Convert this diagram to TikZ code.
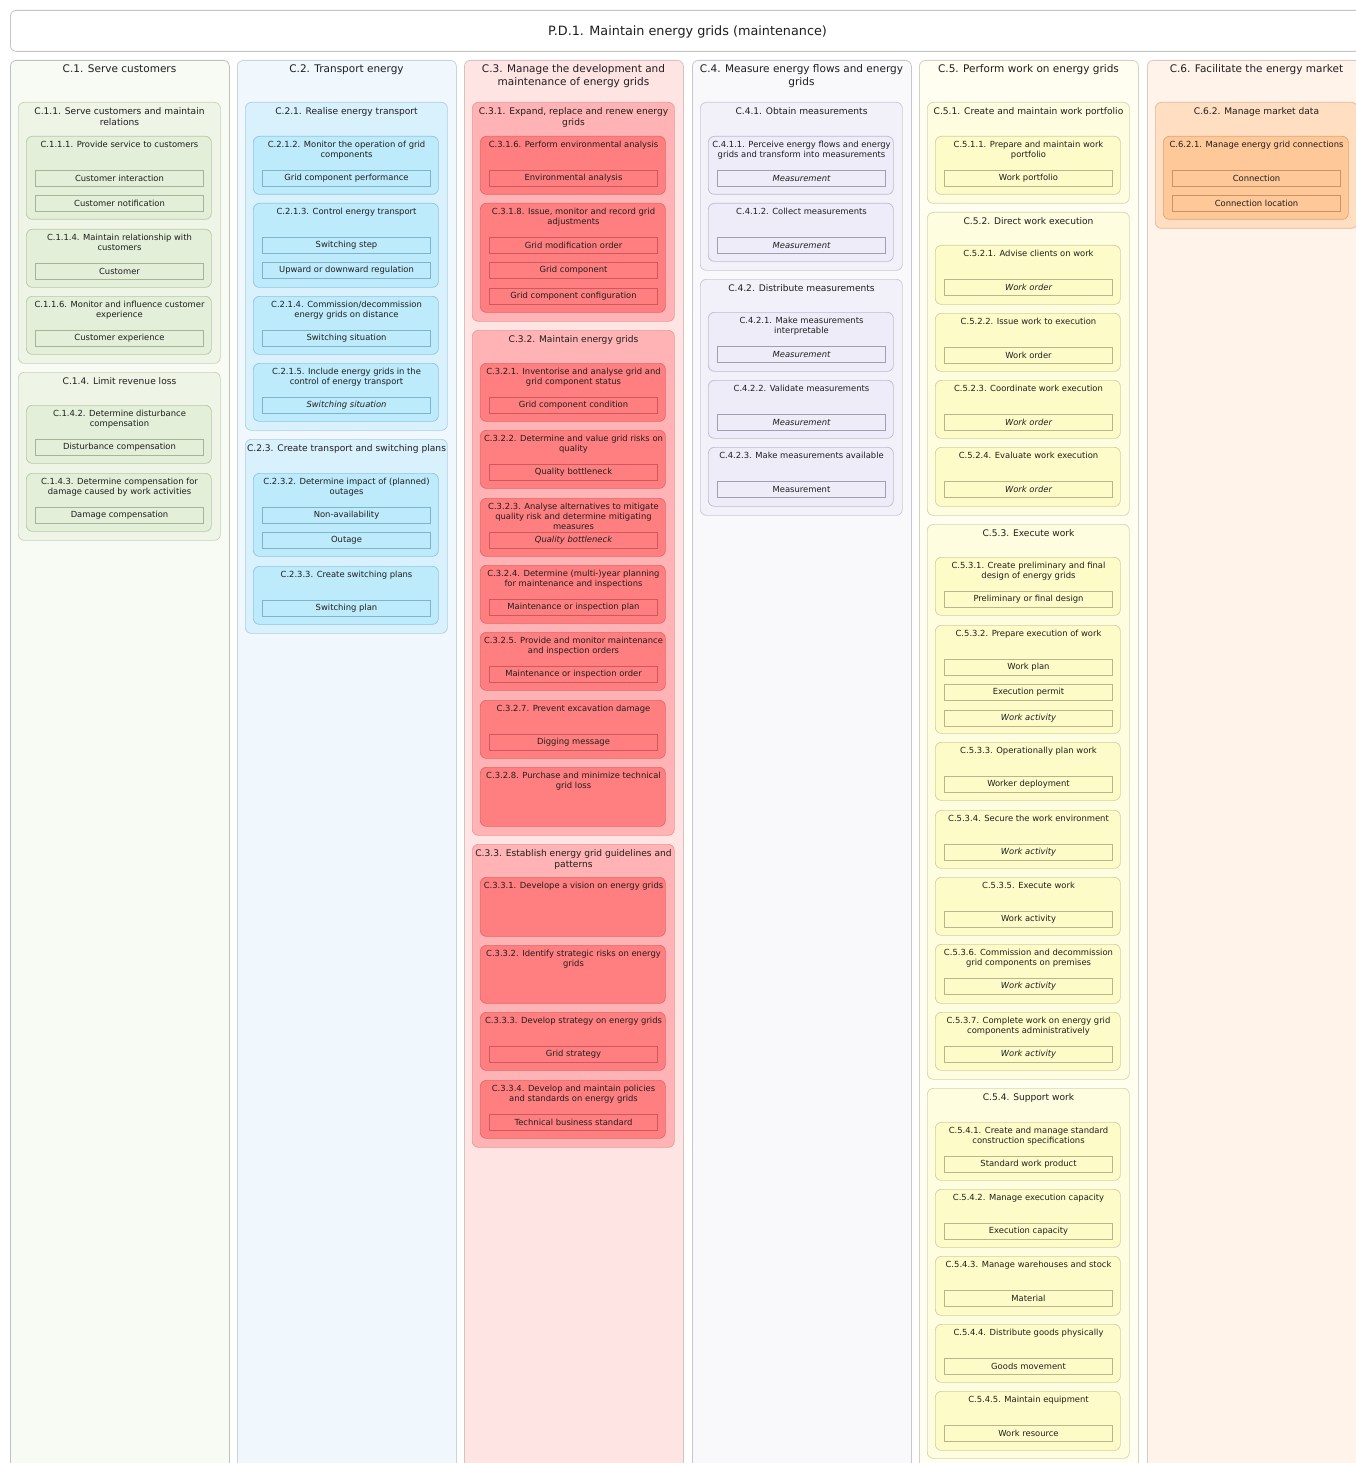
\documentclass[tikz,border=0pt]{standalone}
\usepackage{fontspec}
\setmainfont{DejaVu Sans}
\definecolor{txt}{HTML}{1E1E1E}
\definecolor{frame}{HTML}{C4C4C4}
\tikzset{
  colbox/.style={draw=cdraw, fill=cfill, rounded corners=6pt, line width=0.8pt, minimum width=219, minimum height=1440, inner sep=0pt, anchor=north west},
  grpbox/.style={draw=gdraw, fill=gfill, rounded corners=6pt, line width=0.7pt, minimum width=202, inner sep=0pt, anchor=north west},
  leafbox/.style={draw=ldraw, fill=lfill, rounded corners=6pt, line width=0.7pt, minimum width=185, inner sep=0pt, anchor=north west},
  itembox/.style={draw=idraw, fill=lfill, line width=0.6pt, minimum width=168, minimum height=16, inner sep=0pt, text=txt, font=\fontsize{8.4}{10}\selectfont},
  coltitle/.style={anchor=north, inner sep=0pt, align=center, text=txt, font=\fontsize{10.5}{13}\selectfont},
  grptitle/.style={anchor=north, inner sep=0pt, align=center, text=txt, font=\fontsize{9.1}{11}\selectfont},
  leaftitle/.style={anchor=north, inner sep=0pt, align=center, text=txt, font=\fontsize{8.4}{10.3}\selectfont},
}
\newcommand\colset[6]{\definecolor{cfill}{HTML}{#1}\definecolor{gfill}{HTML}{#2}\definecolor{gdraw}{HTML}{#3}\definecolor{lfill}{HTML}{#4}\definecolor{ldraw}{HTML}{#5}\definecolor{idraw}{HTML}{#6}}
\newcommand\column[3]{% name, x, title
  \node[colbox] (#1) at (#2,60) {};
  \node[coltitle] (#1-t) at (#2+109.5,64.6) {#3};}
\newcommand\grp[5]{% name, colx, top, height, title
  \node[grpbox, minimum height=#4] (#1) at (#2+8,#3) {};
  \node[grptitle] (#1-t) at (#2+109.5,#3+5.6) {#5};}
\newcommand\leaf[5]{% name, colx, top, height, title
  \node[leafbox, minimum height=#4] (#1) at (#2+16,#3) {};
  \node[leaftitle] (#1-t) at (#2+109.5,#3+4.8) {#5};}
\newcommand\itm[5]{% name, colx, leaftop, index, text
  \node[itembox] (#1) at (#2+109.5,#3+42+25.5*#4) {#5};}
\begin{document}
\begin{tikzpicture}[x=1pt,y=-1pt]
\useasboundingbox (0,0) rectangle (1356,1463);
\clip (0,0) rectangle (1356,1463);
\fill[white] (0,0) rectangle (1356,1463);
% title
\node[draw=frame, fill=white, rounded corners=6pt, line width=0.8pt, minimum width=1355, minimum height=41, inner sep=0pt, anchor=north west] (pd) at (10,10) {};
\node[anchor=base, inner sep=0pt, text=txt, font=\fontsize{12.8}{15}\selectfont] (pd-t) at (687.5,35.3) {P.D.1. Maintain energy grids (maintenance)};

% ---------- C.1
\definecolor{cdraw}{HTML}{C0C0BC}
\colset{F8FAF4}{EEF4E6}{C6D3B8}{E3EFD8}{B7C9A4}{A5B595}
\column{c1}{10}{C.1. Serve customers}
\grp{g11}{10}{102}{261}{C.1.1. Serve customers and maintain\\relations}
\leaf{l111}{10}{136}{83}{C.1.1.1. Provide service to customers}
\itm{i111a}{10}{136}{0}{Customer interaction}
\itm{i111b}{10}{136}{1}{Customer notification}
\leaf{l114}{10}{229}{58}{C.1.1.4. Maintain relationship with\\customers}
\itm{i114a}{10}{229}{0}{Customer}
\leaf{l116}{10}{296}{58}{C.1.1.6. Monitor and influence customer\\experience}
\itm{i116a}{10}{296}{0}{Customer experience}
\grp{g14}{10}{372}{168}{C.1.4. Limit revenue loss}
\leaf{l142}{10}{405}{58}{C.1.4.2. Determine disturbance\\compensation}
\itm{i142a}{10}{405}{0}{Disturbance compensation}
\leaf{l143}{10}{473}{58}{C.1.4.3. Determine compensation for\\damage caused by work activities}
\itm{i143a}{10}{473}{0}{Damage compensation}

% ---------- C.2
\definecolor{cdraw}{HTML}{CAD3D8}
\colset{F0F8FD}{D9F1FC}{A9D0E0}{BDEBFB}{8FC6DC}{7FB3C9}
\column{c2}{237}{C.2. Transport energy}
\grp{g21}{237}{102}{328}{C.2.1. Realise energy transport}
\leaf{l212}{237}{136}{58}{C.2.1.2. Monitor the operation of grid\\components}
\itm{i212a}{237}{136}{0}{Grid component performance}
\leaf{l213}{237}{203}{84}{C.2.1.3. Control energy transport}
\itm{i213a}{237}{203}{0}{Switching step}
\itm{i213b}{237}{203}{1}{Upward or downward regulation}
\leaf{l214}{237}{296}{58}{C.2.1.4. Commission/decommission\\energy grids on distance}
\itm{i214a}{237}{296}{0}{Switching situation}
\leaf{l215}{237}{363}{58}{C.2.1.5. Include energy grids in the\\control of energy transport}
\itm{i215a}{237}{363}{0}{\itshape Switching situation}
\grp{g23}{237}{439}{194}{C.2.3. Create transport and switching plans}
\leaf{l232}{237}{473}{83}{C.2.3.2. Determine impact of (planned)\\outages}
\itm{i232a}{237}{473}{0}{Non-availability}
\itm{i232b}{237}{473}{1}{Outage}
\leaf{l233}{237}{566}{58}{C.2.3.3. Create switching plans}
\itm{i233a}{237}{566}{0}{Switching plan}

% ---------- C.3
\definecolor{cdraw}{HTML}{D6C2C2}
\colset{FFE4E4}{FFB3B4}{E79A9B}{FF7F80}{E0696B}{CC5A5C}
\column{c3}{464}{C.3. Manage the development and\\maintenance of energy grids}
\grp{g31}{464}{102}{219}{C.3.1. Expand, replace and renew energy\\grids}
\leaf{l316}{464}{136}{58}{C.3.1.6. Perform environmental analysis}
\itm{i316a}{464}{136}{0}{Environmental analysis}
\leaf{l318}{464}{203}{109}{C.3.1.8. Issue, monitor and record grid\\adjustments}
\itm{i318a}{464}{203}{0}{Grid modification order}
\itm{i318b}{464}{203}{1}{Grid component}
\itm{i318c}{464}{203}{2}{Grid component configuration}
\grp{g32}{464}{330}{505}{C.3.2. Maintain energy grids}
\leaf{l321}{464}{363}{58}{C.3.2.1. Inventorise and analyse grid and\\grid component status}
\itm{i321a}{464}{363}{0}{Grid component condition}
\leaf{l322}{464}{430}{58}{C.3.2.2. Determine and value grid risks on\\quality}
\itm{i322a}{464}{430}{0}{Quality bottleneck}
\leaf{l323}{464}{498}{58}{C.3.2.3. Analyse alternatives to mitigate\\quality risk and determine mitigating\\measures}
\itm{i323a}{464}{498}{0}{\itshape Quality bottleneck}
\leaf{l324}{464}{565}{58}{C.3.2.4. Determine (multi-)year planning\\for maintenance and inspections}
\itm{i324a}{464}{565}{0}{Maintenance or inspection plan}
\leaf{l325}{464}{632}{58}{C.3.2.5. Provide and monitor maintenance\\and inspection orders}
\itm{i325a}{464}{632}{0}{Maintenance or inspection order}
\leaf{l327}{464}{700}{58}{C.3.2.7. Prevent excavation damage}
\itm{i327a}{464}{700}{0}{Digging message}
\leaf{l328}{464}{767}{59}{C.3.2.8. Purchase and minimize technical\\grid loss}
\grp{g33}{464}{844}{303}{C.3.3. Establish energy grid guidelines and\\patterns}
\leaf{l331}{464}{877}{59}{C.3.3.1. Develope a vision on energy grids}
\leaf{l332}{464}{945}{58}{C.3.3.2. Identify strategic risks on energy\\grids}
\leaf{l333}{464}{1012}{58}{C.3.3.3. Develop strategy on energy grids}
\itm{i333a}{464}{1012}{0}{Grid strategy}
\leaf{l334}{464}{1080}{58}{C.3.3.4. Develop and maintain policies\\and standards on energy grids}
\itm{i334a}{464}{1080}{0}{Technical business standard}

% ---------- C.4
\definecolor{cdraw}{HTML}{C6C6CC}
\colset{F9F9FC}{F2F1FA}{C9C7D6}{EEECF8}{BEBCCD}{A09EB0}
\column{c4}{692}{C.4. Measure energy flows and energy\\grids}
\grp{g41}{692}{102}{168}{C.4.1. Obtain measurements}
\leaf{l411}{692}{136}{58}{C.4.1.1. Perceive energy flows and energy\\grids and transform into measurements}
\itm{i411a}{692}{136}{0}{\itshape Measurement}
\leaf{l412}{692}{203}{58}{C.4.1.2. Collect measurements}
\itm{i412a}{692}{203}{0}{\itshape Measurement}
\grp{g42}{692}{279}{236}{C.4.2. Distribute measurements}
\leaf{l421}{692}{312}{59}{C.4.2.1. Make measurements\\interpretable}
\itm{i421a}{692}{312}{0}{\itshape Measurement}
\leaf{l422}{692}{380}{58}{C.4.2.2. Validate measurements}
\itm{i422a}{692}{380}{0}{\itshape Measurement}
\leaf{l423}{692}{447}{59}{C.4.2.3. Make measurements available}
\itm{i423a}{692}{447}{0}{Measurement}

% ---------- C.5
\definecolor{cdraw}{HTML}{D2D2C2}
\colset{FFFEF0}{FEFDDF}{D6D5B0}{FDFCC9}{D2D0A0}{B8B68A}
\column{c5}{919}{C.5. Perform work on energy grids}
\grp{g51}{919}{102}{101}{C.5.1. Create and maintain work portfolio}
\leaf{l511}{919}{136}{58}{C.5.1.1. Prepare and maintain work\\portfolio}
\itm{i511a}{919}{136}{0}{Work portfolio}
\grp{g52}{919}{212}{303}{C.5.2. Direct work execution}
\leaf{l521}{919}{245}{59}{C.5.2.1. Advise clients on work}
\itm{i521a}{919}{245}{0}{\itshape Work order}
\leaf{l522}{919}{313}{58}{C.5.2.2. Issue work to execution}
\itm{i522a}{919}{313}{0}{Work order}
\leaf{l523}{919}{380}{58}{C.5.2.3. Coordinate work execution}
\itm{i523a}{919}{380}{0}{\itshape Work order}
\leaf{l524}{919}{447}{59}{C.5.2.4. Evaluate work execution}
\itm{i524a}{919}{447}{0}{\itshape Work order}
\grp{g53}{919}{524}{555}{C.5.3. Execute work}
\leaf{l531}{919}{557}{58}{C.5.3.1. Create preliminary and final\\design of energy grids}
\itm{i531a}{919}{557}{0}{Preliminary or final design}
\leaf{l532}{919}{625}{108}{C.5.3.2. Prepare execution of work}
\itm{i532a}{919}{625}{0}{Work plan}
\itm{i532b}{919}{625}{1}{Execution permit}
\itm{i532c}{919}{625}{2}{\itshape Work activity}
\leaf{l533}{919}{742}{58}{C.5.3.3. Operationally plan work}
\itm{i533a}{919}{742}{0}{Worker deployment}
\leaf{l534}{919}{810}{58}{C.5.3.4. Secure the work environment}
\itm{i534a}{919}{810}{0}{\itshape Work activity}
\leaf{l535}{919}{877}{58}{C.5.3.5. Execute work}
\itm{i535a}{919}{877}{0}{Work activity}
\leaf{l536}{919}{944}{59}{C.5.3.6. Commission and decommission\\grid components on premises}
\itm{i536a}{919}{944}{0}{\itshape Work activity}
\leaf{l537}{919}{1012}{58}{C.5.3.7. Complete work on energy grid\\components administratively}
\itm{i537a}{919}{1012}{0}{\itshape Work activity}
\grp{g54}{919}{1088}{370}{C.5.4. Support work}
\leaf{l541}{919}{1122}{58}{C.5.4.1. Create and manage standard\\construction specifications}
\itm{i541a}{919}{1122}{0}{Standard work product}
\leaf{l542}{919}{1189}{58}{C.5.4.2. Manage execution capacity}
\itm{i542a}{919}{1189}{0}{Execution capacity}
\leaf{l543}{919}{1256}{59}{C.5.4.3. Manage warehouses and stock}
\itm{i543a}{919}{1256}{0}{Material}
\leaf{l544}{919}{1324}{58}{C.5.4.4. Distribute goods physically}
\itm{i544a}{919}{1324}{0}{Goods movement}
\leaf{l545}{919}{1391}{59}{C.5.4.5. Maintain equipment}
\itm{i545a}{919}{1391}{0}{Work resource}

% ---------- C.6
\definecolor{cdraw}{HTML}{D6CAC2}
\colset{FFF3EA}{FFDEC2}{E2B899}{FFC899}{E0A475}{CF9262}
\column{c6}{1147}{C.6. Facilitate the energy market}
\grp{g62}{1147}{102}{126}{C.6.2. Manage market data}
\leaf{l621}{1147}{136}{83}{C.6.2.1. Manage energy grid connections}
\itm{i621a}{1147}{136}{0}{Connection}
\itm{i621b}{1147}{136}{1}{Connection location}
\end{tikzpicture}
\end{document}
